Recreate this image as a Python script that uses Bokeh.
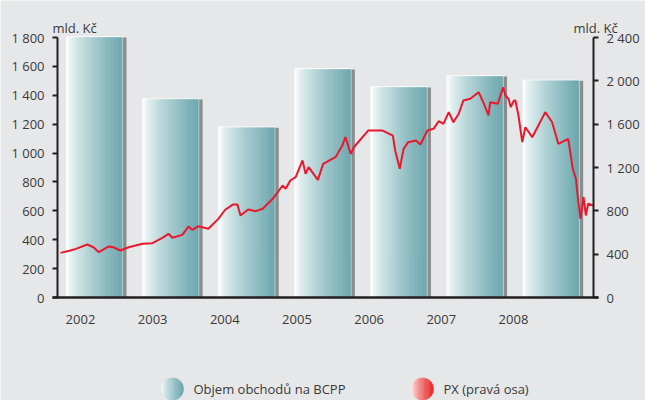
import numpy as np
from bokeh.plotting import figure
from bokeh.models import Range1d, LinearAxis, FixedTicker
from bokeh.embed import file_html
from bokeh.resources import INLINE
from bokeh.core.properties import value

# ---------------- data ----------------
years = ["2002", "2003", "2004", "2005", "2006", "2007", "2008"]
volume = [1800, 1370, 1175, 1578, 1454, 1530, 1500]          # mld. Kč (left axis)
left_ticks = [0, 200, 400, 600, 800, 1000, 1200, 1400, 1600, 1800]
right_ticks = [0, 400, 800, 1200, 1600, 2000, 2400]

px_t = [2002.04, 2002.17, 2002.24, 2002.39, 2002.47, 2002.54, 2002.67, 2002.73, 2002.82, 2002.93,
        2003.11, 2003.24, 2003.37, 2003.45, 2003.50, 2003.63, 2003.71, 2003.76, 2003.84, 2003.97,
        2004.10, 2004.19, 2004.29, 2004.35, 2004.39, 2004.49, 2004.59, 2004.68, 2004.81, 2004.94, 2004.98,
        2005.04, 2005.11, 2005.20, 2005.24, 2005.28, 2005.40, 2005.47, 2005.63, 2005.72, 2005.76, 2005.83, 2005.87,
        2006.02, 2006.06, 2006.24, 2006.38, 2006.41, 2006.47, 2006.52, 2006.58, 2006.68, 2006.74, 2006.83, 2006.91, 2006.98,
        2007.04, 2007.11, 2007.17, 2007.24, 2007.30, 2007.39, 2007.50, 2007.56, 2007.63, 2007.65, 2007.75, 2007.82,
        2007.85, 2007.89, 2007.92, 2007.96, 2007.98,
        2008.02, 2008.07, 2008.11, 2008.20, 2008.28, 2008.37, 2008.46, 2008.54, 2008.67, 2008.73, 2008.77, 2008.80,
        2008.83, 2008.87, 2008.90, 2008.93, 2009.00]
px_val = [412, 434, 449, 489, 464, 418, 471, 464, 434, 464,
          496, 501, 551, 588, 551, 578, 655, 625, 658, 634,
          726, 810, 858, 858, 757, 812, 797, 819, 911, 1034, 1003,
          1080, 1111, 1265, 1142, 1203, 1086, 1234, 1295, 1403, 1480, 1326, 1387,
          1511, 1542, 1542, 1495, 1357, 1188, 1372, 1434, 1449, 1412, 1542, 1557, 1628,
          1603, 1711, 1618, 1696, 1818, 1834, 1895, 1803, 1680, 1803, 1788, 1941,
          1865, 1834, 1757, 1818, 1818,
          1680, 1434, 1572, 1480, 1588, 1711, 1618, 1419, 1465, 1188, 1096, 895,
          726, 926, 757, 865, 849]

legend_labels = ["Objem obchodů na BCPP", "PX (pravá osa)"]
unit_label = "mld. Kč"

# ---------------- layout / style ----------------
BG = "#e6e7e8"
FONT = "Open Sans"
TXT = "#3a3a3a"
AX = "#231f20"
W, H = 645, 400
X0, X1 = 2002, 2009
Y1, Y2 = 1800, 2400
# plot-area geometry in figure pixels
PL, PR, PT, PB = 57, 593, 37, 297
xpx = (X1 - X0) / (PR - PL)          # x data per pixel
ypx = Y1 / (PB - PT)                 # left-axis data per pixel
ypx2 = Y2 / (PB - PT)                # right-axis data per pixel


def px2x(px):
    return X0 + (px - PL) * xpx


def px2y(py):
    return (PB - py) * ypx


def fmt(v):
    return f"{v:,}".replace(",", " ")


def grad(c0, c1, t):
    t = t ** 0.75
    return "#%02x%02x%02x" % tuple(int(round(a + (b - a) * t)) for a, b in zip(c0, c1))


x_rng = Range1d(px2x(0), px2x(W))
y_rng = Range1d(px2y(H), px2y(0))
p = figure(width=W, height=H, x_range=x_rng, y_range=y_rng,
           output_backend="svg", toolbar_location=None,
           min_border=0, min_border_left=0, min_border_right=0, min_border_top=0, min_border_bottom=0,
           background_fill_color=BG, border_fill_color=BG, outline_line_color=None)
p.xgrid.visible = False
p.ygrid.visible = False
p.extra_y_ranges = {"px": Range1d((PB - H) * ypx2, PB * ypx2)}

# ---------------- bars (gradient simulated by strips) ----------------
TEAL0 = (246, 251, 251)
TEAL1 = (108, 168, 175)
N = 28
bw = 0.718
sl, sr, st, sc = [], [], [], []
wl, wr, wt = [], [], []
hl, hr, ht = [], [], []
for i, v in enumerate(volume):
    left = X0 + i * 0.994 + 0.127
    right = left + bw
    wl.append(left - 1.2 * xpx); wr.append(right); wt.append(v + 1.2 * ypx)
    hl.append(right + 0.9 * xpx); hr.append(right + 4.3 * xpx); ht.append(v)
    edges = np.linspace(left, right, N + 1)
    for j in range(N):
        sl.append(edges[j]); sr.append(edges[j + 1]); st.append(v)
        sc.append(grad(TEAL0, TEAL1, j / (N - 1)))

p.quad(left=hl, right=hr, bottom=0, top=ht, fill_color="#8c8c8c", line_color=None)
p.quad(left=wl, right=wr, bottom=0, top=wt, fill_color="#ffffff", line_color=None)
p.quad(left=sl, right=sr, bottom=0, top=st, fill_color=sc, line_color=sc, line_width=0.6)

# ---------------- PX line ----------------
p.line(px_t, px_val, y_range_name="px", line_color="#e8192c", line_width=2)

# ---------------- axes ----------------
ya = p.yaxis[0]
ya.ticker = FixedTicker(ticks=left_ticks)
ya.major_label_overrides = {v: fmt(v) for v in left_ticks}
ya.fixed_location = X0
ya.bounds = (0, Y1)

yr = LinearAxis(y_range_name="px", ticker=FixedTicker(ticks=right_ticks),
                major_label_overrides={v: fmt(v) for v in right_ticks},
                fixed_location=X1, bounds=(0, Y2))
p.add_layout(yr, "right")

for ax in (ya, yr):
    ax.axis_line_width = 2
    ax.axis_line_color = AX
    ax.major_tick_out = 5
    ax.major_tick_in = 0
    ax.minor_tick_out = 0
    ax.minor_tick_in = 0
    ax.major_tick_line_width = 2
    ax.major_tick_line_color = AX
    ax.major_label_text_font = FONT
    ax.major_label_text_font_size = "13px"
    ax.major_label_text_color = TXT
    ax.major_label_standoff = 8

xa = p.xaxis[0]
label_pos = [X0 + 0.30 + 0.9425 * i for i in range(len(years))]
xa.ticker = FixedTicker(ticks=label_pos)
xa.major_label_overrides = {lp: y for lp, y in zip(label_pos, years)}
xa.fixed_location = 0
xa.bounds = (px2x(52), px2x(598))
xa.axis_line_width = 2.5
xa.axis_line_color = AX
xa.major_tick_out = 0
xa.major_tick_in = 0
xa.minor_tick_out = 0
xa.minor_tick_in = 0
xa.major_label_text_font = FONT
xa.major_label_text_font_size = "13px"
xa.major_label_text_color = TXT
xa.major_label_standoff = 17

# unit labels above both axes
p.text(x=[px2x(52), px2x(573)], y=[px2y(27), px2y(27)], text=[unit_label, unit_label],
       text_baseline="alphabetic", text_align="left",
       text_font=value(FONT), text_font_size="13px", text_color=TXT)

# ---------------- legend (drawn below the plot area) ----------------
RED0 = (253, 232, 228)
RED1 = (234, 40, 40)
r = 11
cy_px = 388.5
items = [(172, TEAL0, TEAL1, legend_labels[0]), (422, RED0, RED1, legend_labels[1])]
for cx_px, c0, c1, lab in items:
    M = 18
    edges = np.linspace(cx_px - r, cx_px + r, M + 1)
    xs, ys, cols = [], [], []
    for j in range(M):
        xx = np.linspace(edges[j], edges[j + 1], 6)
        hh = np.sqrt(np.clip(r ** 2 - (xx - cx_px) ** 2, 0, None))
        xs.append([px2x(a) for a in list(xx) + list(xx[::-1])])
        ys.append([px2y(b) for b in list(cy_px - hh) + list((cy_px + hh)[::-1])])
        cols.append(grad(c0, c1, j / (M - 1)))
    p.patches(xs, ys, fill_color=cols, line_color=cols, line_width=0.6)
    p.text(x=[px2x(cx_px + 21)], y=[px2y(cy_px)], text=[lab], text_baseline="middle", text_align="left",
           text_font=value(FONT), text_font_size="13px", text_color=TXT)

open("out.html", "w").write(file_html(p, INLINE))
